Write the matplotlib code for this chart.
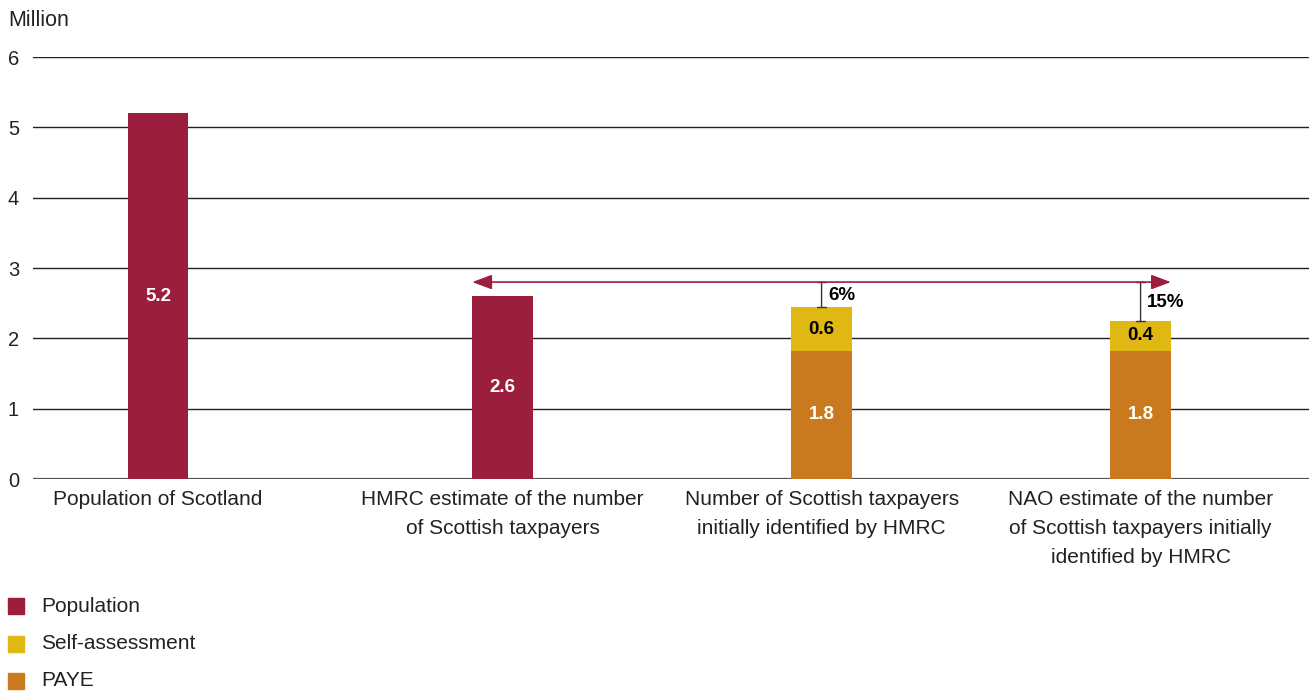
import matplotlib
matplotlib.use("Agg")
import matplotlib.pyplot as plt
from matplotlib.patches import Rectangle

plt.rcParams['font.family'] = ['Liberation Sans', 'DejaVu Sans']

categories = ["Population of Scotland",
              "HMRC estimate of the number\nof Scottish taxpayers",
              "Number of Scottish taxpayers\ninitially identified by HMRC",
              "NAO estimate of the number\nof Scottish taxpayers initially\nidentified by HMRC"]
population = [5.2, 2.6, 0, 0]
paye = [0, 0, 1.82, 1.82]
self_assessment = [0, 0, 0.62, 0.43]
population_labels = ["5.2", "2.6", "", ""]
paye_labels = ["", "", "1.8", "1.8"]
sa_labels = ["", "", "0.6", "0.4"]
gap_pct = ["", "", "6%", "15%"]
arrow_level = 2.8
yticks = [0, 1, 2, 3, 4, 5, 6]

positions = [0, 1.08, 2.08, 3.08]
c_pop = "#9B1F3C"
c_sa = "#E0B813"
c_paye = "#C97A1E"
w = 0.19

fig = plt.figure(figsize=(13.09, 6.91), dpi=100)
ax = fig.add_axes([0.0252, 0.3068, 0.9748, 0.6107])
ax.set_xlim(-0.392, 3.608)
ax.set_ylim(0, 6)

for y in yticks:
    ax.axhline(y, color="#222222" if y else "#555555", lw=1.0 if y else 1.6, zorder=0)

ax.bar(positions, population, width=w, color=c_pop, zorder=2)
ax.bar(positions, paye, width=w, color=c_paye, zorder=2)
ax.bar(positions, self_assessment, width=w, bottom=paye, color=c_sa, zorder=2)

for i, x in enumerate(positions):
    if population_labels[i]:
        ax.text(x, population[i] / 2, population_labels[i], ha="center", va="center",
                color="white", fontsize=13.5, fontweight="bold")
    if paye_labels[i]:
        ax.text(x, paye[i] / 2, paye_labels[i], ha="center", va="center",
                color="white", fontsize=13.5, fontweight="bold")
    if sa_labels[i]:
        ax.text(x, paye[i] + self_assessment[i] / 2, sa_labels[i], ha="center", va="center",
                color="black", fontsize=13.5, fontweight="bold")
    if gap_pct[i]:
        top = paye[i] + self_assessment[i]
        ax.annotate("", xy=(x, top), xytext=(x, arrow_level),
                    arrowprops=dict(arrowstyle="|-|,widthA=0.35,widthB=0.35", color="#333333", lw=1,
                                    shrinkA=0, shrinkB=0))
        ax.text(x + 0.02, (top + arrow_level) / 2 - 0.01, gap_pct[i], ha="left", va="center",
                color="black", fontsize=13.5, fontweight="bold")

ax.annotate("", xy=(positions[1] - w / 2, arrow_level), xytext=(positions[3] + w / 2, arrow_level),
            arrowprops=dict(arrowstyle="<|-|>,head_length=1.2,head_width=0.45", color=c_pop, lw=1.2,
                            shrinkA=0, shrinkB=0))

ax.set_yticks(yticks)
ax.set_yticklabels([str(t) for t in yticks], fontsize=14.5, color="#222222")
ax.tick_params(axis="y", length=0, pad=10)
ax.set_xticks(positions)
ax.set_xticklabels(categories, fontsize=15, color="#222222", linespacing=1.65)
ax.tick_params(axis="x", length=0, pad=8)
for s in ax.spines.values():
    s.set_visible(False)

fig.text(8 / 1309, 1 - 20 / 691, "Million", fontsize=15.5, va="center", ha="left", color="#222222")

legend_items = [("Population", c_pop), ("Self-assessment", c_sa), ("PAYE", c_paye)]
for k, (name, col) in enumerate(legend_items):
    yc = 606 + k * 37.5
    fig.add_artist(Rectangle((8 / 1309, 1 - (yc + 8) / 691), 16 / 1309, 16 / 691,
                             transform=fig.transFigure, color=col))
    fig.text(41 / 1309, 1 - yc / 691, name, fontsize=15, va="center", ha="left", color="#222222")

fig.savefig("out.png", dpi=100)
